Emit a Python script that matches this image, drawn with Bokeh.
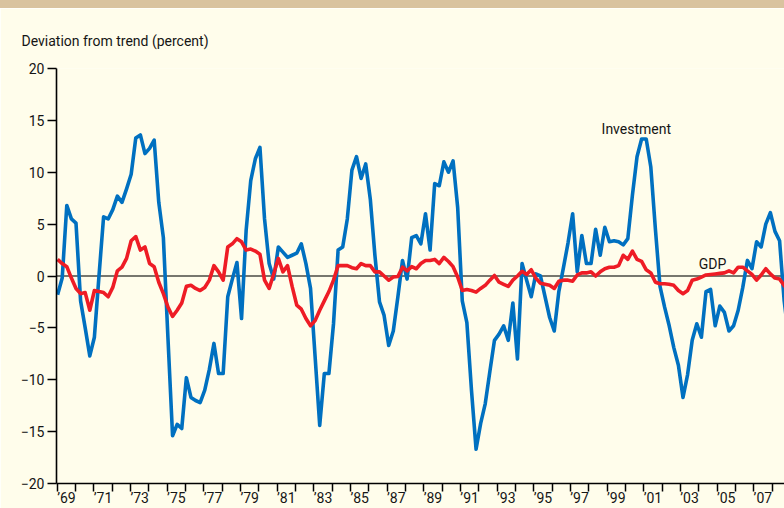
from bokeh.plotting import figure
from bokeh.models import FixedTicker, Span, Label, Range1d, Title, Div
from bokeh.layouts import column
from bokeh.embed import file_html
from bokeh.resources import INLINE

# Quarterly deviation from trend (percent), 1969Q1 onwards
investment = [
    -1.8, -0.2, 6.8, 5.5, 5.1, -2.4, -5.0, -7.7, -5.9, 0.0,
    5.7, 5.5, 6.4, 7.7, 7.1, 8.4, 9.8, 13.3, 13.6, 11.8,
    12.3, 13.1, 7.1, 3.7, -6.0, -15.4, -14.3, -14.7, -9.8, -11.7,
    -12.0, -12.2, -11.0, -9.0, -6.5, -9.4, -9.4, -2.0, -0.3, 1.3,
    -4.1, 4.4, 9.2, 11.3, 12.4, 5.5, 1.2, -0.3, 2.8, 2.3,
    1.8, 2.0, 2.2, 3.1, 1.2, -1.2, -7.8, -14.4, -9.4, -9.4,
    -4.6, 2.5, 2.8, 5.5, 10.2, 11.5, 9.4, 10.8, 7.4, 2.0,
    -2.5, -3.8, -6.7, -5.3, -2.0, 1.5, -0.3, 3.7, 3.9, 3.1,
    6.0, 2.5, 8.9, 8.7, 11.0, 10.0, 11.1, 6.6, -2.4, -4.5,
    -11.0, -16.7, -14.2, -12.3, -9.2, -6.2, -5.6, -4.8, -6.2, -2.6,
    -8.0, 1.2, -0.4, -2.0, 0.2, 0.0, -2.0, -4.0, -5.3, -1.5,
    0.8, 3.2, 6.0, 0.4, 3.9, 1.2, 1.2, 4.5, 2.0, 4.7,
    3.3, 3.4, 3.3, 3.0, 3.6, 7.8, 11.5, 13.2, 13.2, 10.5,
    4.5, -1.0, -3.0, -4.8, -6.9, -8.6, -11.7, -9.5, -6.2, -4.6,
    -5.9, -1.5, -1.3, -4.8, -2.9, -3.5, -5.3, -4.8, -3.3, -1.1,
    1.5, 0.7, 3.3, 2.8, 5.0, 6.1, 4.3, 3.4, -2.4, -6.0,
]
gdp = [
    1.6, 1.2, 0.9, -0.2, -1.2, -1.7, -1.6, -3.3, -1.4, -1.5,
    -1.6, -2.0, -1.1, 0.5, 0.85, 1.7, 3.4, 3.8, 2.5, 2.8,
    1.2, 0.9, -0.6, -1.7, -3.0, -3.9, -3.3, -2.6, -1.0, -0.9,
    -1.2, -1.4, -1.1, -0.4, 1.0, 0.4, -0.4, 2.8, 3.1, 3.6,
    3.3, 2.5, 2.6, 2.4, 2.1, -0.4, -1.2, 0.2, 1.7, 0.4,
    1.0, -1.0, -2.8, -3.2, -4.1, -4.8, -4.3, -3.3, -2.4, -1.5,
    -0.4, 1.0, 1.0, 1.0, 0.8, 0.7, 1.2, 1.0, 1.0, 0.4,
    0.4, 0.0, -0.4, -0.1, -0.05, 0.85, 0.5, 0.9, 0.7, 1.2,
    1.5, 1.5, 1.6, 1.2, 1.8, 1.4, 0.9, -0.1, -1.4, -1.3,
    -1.4, -1.55, -1.2, -0.9, -0.4, 0.05, -0.6, -0.8, -1.0, -0.4,
    0.0, 0.45, 0.15, 0.6, -0.2, -0.7, -0.8, -0.9, -1.2, -0.5,
    -0.4, -0.4, -0.5, 0.1, 0.3, 0.3, 0.4, 0.0, 0.4, 0.7,
    0.85, 0.85, 1.0, 2.0, 1.6, 2.4, 1.6, 1.4, 0.6, 0.3,
    -0.6, -0.75, -0.75, -0.8, -0.9, -1.4, -1.7, -1.4, -0.4, -0.3,
    -0.1, 0.1, 0.15, 0.2, 0.25, 0.3, 0.5, 0.3, 0.85, 0.85,
    0.5, 0.15, -0.4, 0.1, 0.7, 0.2, -0.2, -0.3, -0.9, -1.5,
]
start_year = 1969.02
quarter_step = 0.2509
year_ticks = list(range(1969, 2009))
label_years = list(range(1969, 2008, 2))
y_ticks = [-20, -15, -10, -5, 0, 5, 10, 15, 20]

quarters = [start_year + i * quarter_step for i in range(len(investment))]

FONT = "Roboto"
BG = "#FFFDEB"
TAN = "#D9C39F"
BLUE = "#0070C0"
RED = "#EE1C25"
TXT = "#151515"

band = Div(text="", width=784, height=8,
           styles={"background-color": TAN, "margin": "0", "padding": "0"})

p = figure(width=784, height=500, output_backend="svg", toolbar_location=None,
           title=None,
           x_range=Range1d(1968.96, 2008.68), y_range=Range1d(-20, 20),
           min_border_left=56, min_border_top=60, min_border_right=0,
           min_border_bottom=24,
           background_fill_color=BG, border_fill_color=BG,
           outline_line_color=None)

p.xgrid.visible = False
p.ygrid.visible = False

zero = Span(location=0, dimension="width", line_color="#4A4A44", line_width=1.6)
zero.level = "underlay"
p.add_layout(zero)

p.line(quarters, investment, line_color=BLUE, line_width=3.6, line_join="round")
p.line(quarters, gdp, line_color=RED, line_width=3.6, line_join="round")

# x axis: labels centred within the year, ticks at year boundaries
xa = p.xaxis[0]
xa.ticker = FixedTicker(ticks=[y + 0.5 for y in label_years], minor_ticks=year_ticks)
xa.major_label_overrides = {y + 0.5: "\u2019" + str(y)[2:] for y in label_years}
xa.major_tick_out = 0
xa.major_tick_in = 0
xa.minor_tick_out = 8
xa.minor_tick_in = 0
xa.minor_tick_line_color = "black"
xa.minor_tick_line_width = 1.5
xa.axis_line_color = "black"
xa.axis_line_width = 1.6
xa.major_label_text_font = FONT
xa.major_label_text_font_size = "14px"
xa.major_label_text_color = TXT
xa.major_label_standoff = -2

ya = p.yaxis[0]
ya.ticker = FixedTicker(ticks=y_ticks)
ya.major_label_overrides = {t: (str(t) if t >= 0 else "\u2212" + str(-t)) for t in y_ticks}
ya.major_tick_out = 9
ya.major_tick_in = 0
ya.minor_tick_out = 0
ya.minor_tick_in = 0
ya.major_tick_line_width = 1.5
ya.axis_line_color = "black"
ya.axis_line_width = 1.6
ya.major_label_text_font = FONT
ya.major_label_text_font_size = "14px"
ya.major_label_text_color = TXT
ya.major_label_standoff = 3

p.add_layout(Title(text="Deviation from trend (percent)", align="left", offset=-35,
                   standoff=39, text_font=FONT, text_font_size="14px",
                   text_font_style="normal", text_color=TXT), "above")
p.add_layout(Label(x=1998.7, y=14.2, text="Investment", text_font=FONT,
                   text_font_size="14px", text_color=TXT,
                   text_baseline="middle", text_align="left"))
p.add_layout(Label(x=2004.0, y=1.2, text="GDP", text_font=FONT,
                   text_font_size="14px", text_color=TXT,
                   text_baseline="middle", text_align="left"))

layout = column(band, p, spacing=0)
open("out.html", "w").write(file_html(layout, INLINE))
